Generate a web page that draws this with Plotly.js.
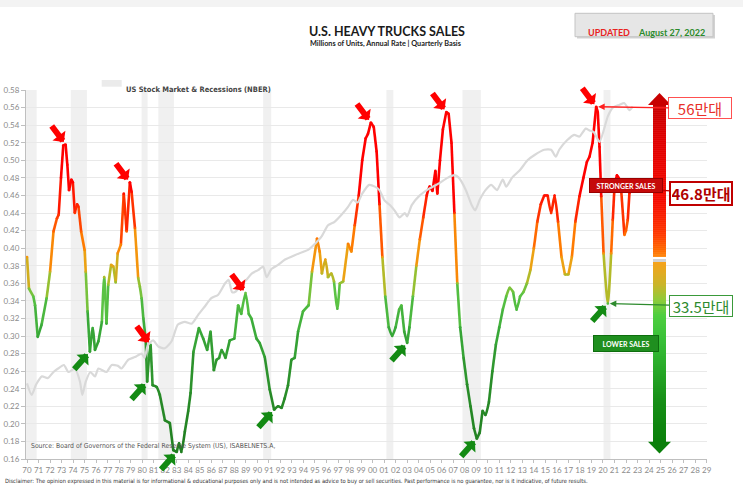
<!DOCTYPE html>
<html><head><meta charset="utf-8">
<script src="https://cdn.plot.ly/plotly-3.0.1.min.js"></script>
<style>html,body{margin:0;padding:0;background:#fff;}#chart{width:743px;height:493px;}</style>
</head><body><div id="chart"></div>
<script>
// ---------------- DATA ----------------
const salesYears = [1970.00,1970.17,1970.55,1970.70,1970.93,1971.27,1971.70,1972.00,1972.30,1972.60,1972.75,1972.95,1973.15,1973.35,1973.50,1973.65,1973.85,1973.98,1974.15,1974.35,1974.47,1974.70,1975.00,1975.10,1975.26,1975.46,1975.70,1975.90,1976.20,1976.50,1976.70,1976.90,1977.05,1977.30,1977.50,1977.70,1977.87,1978.15,1978.40,1978.65,1978.93,1979.08,1979.37,1979.65,1979.80,1979.95,1980.10,1980.30,1980.43,1980.58,1980.73,1980.90,1981.25,1981.53,1981.97,1982.40,1982.70,1983.00,1983.20,1983.40,1983.70,1984.00,1984.20,1984.45,1984.92,1985.30,1985.64,1985.93,1986.22,1986.45,1986.68,1986.90,1987.23,1987.60,1988.00,1988.33,1988.60,1988.97,1989.25,1989.48,1989.92,1990.20,1990.64,1991.07,1991.45,1991.80,1992.10,1992.37,1992.66,1992.95,1993.24,1993.53,1993.96,1994.45,1994.74,1995.18,1995.41,1995.60,1995.90,1996.13,1996.42,1996.65,1996.94,1997.15,1997.45,1997.87,1998.16,1998.45,1998.80,1999.10,1999.40,1999.60,1999.85,2000.10,2000.35,2000.60,2000.85,2001.10,2001.40,2001.70,2002.00,2002.30,2002.50,2002.75,2003.00,2003.20,2003.50,2003.80,2004.10,2004.40,2004.70,2004.95,2005.20,2005.45,2005.62,2005.85,2006.10,2006.40,2006.60,2006.85,2007.10,2007.35,2007.60,2007.90,2008.20,2008.50,2008.80,2009.05,2009.30,2009.55,2009.80,2010.10,2010.40,2010.70,2011.00,2011.30,2011.60,2011.90,2012.20,2012.50,2012.80,2013.10,2013.40,2013.70,2014.00,2014.30,2014.60,2014.90,2015.20,2015.50,2015.80,2016.10,2016.40,2016.70,2017.00,2017.30,2017.60,2017.96,2018.30,2018.60,2018.83,2019.10,2019.41,2019.55,2019.70,2019.85,2020.05,2020.42,2020.71,2020.85,2021.00,2021.21,2021.45,2021.58,2021.86,2022.00,2022.15,2022.30,2022.58,2022.88];
const salesValues = [0.390,0.354,0.345,0.335,0.299,0.313,0.343,0.373,0.419,0.434,0.438,0.480,0.517,0.518,0.495,0.466,0.478,0.475,0.440,0.450,0.447,0.419,0.398,0.373,0.328,0.282,0.309,0.284,0.294,0.316,0.367,0.314,0.358,0.381,0.379,0.361,0.394,0.404,0.462,0.419,0.475,0.464,0.423,0.366,0.356,0.343,0.320,0.297,0.248,0.275,0.290,0.244,0.242,0.233,0.204,0.201,0.170,0.168,0.178,0.168,0.191,0.215,0.235,0.282,0.309,0.297,0.284,0.305,0.261,0.273,0.275,0.284,0.275,0.295,0.297,0.335,0.325,0.349,0.325,0.320,0.297,0.292,0.276,0.239,0.216,0.220,0.218,0.229,0.244,0.273,0.275,0.305,0.328,0.335,0.373,0.411,0.396,0.371,0.387,0.367,0.371,0.362,0.331,0.360,0.362,0.405,0.396,0.426,0.460,0.500,0.525,0.530,0.543,0.538,0.510,0.450,0.390,0.345,0.310,0.300,0.310,0.330,0.335,0.305,0.292,0.310,0.345,0.380,0.410,0.435,0.460,0.470,0.465,0.488,0.462,0.500,0.535,0.555,0.553,0.520,0.440,0.360,0.310,0.275,0.245,0.220,0.195,0.183,0.190,0.215,0.210,0.225,0.260,0.290,0.310,0.330,0.345,0.355,0.350,0.330,0.345,0.350,0.360,0.375,0.400,0.430,0.450,0.460,0.460,0.440,0.460,0.430,0.390,0.370,0.370,0.390,0.430,0.459,0.480,0.498,0.504,0.520,0.561,0.555,0.515,0.459,0.394,0.337,0.394,0.432,0.470,0.483,0.478,0.466,0.415,0.420,0.432,0.463,0.468,0.468];

// US stock market (hidden scale, drawn on overlay axis)
const stockYears = [1970.0,1970.4,1970.8,1971.3,1971.8,1972.3,1972.7,1973.2,1973.6,1974.15,1974.6,1974.8,1975.1,1975.5,1975.9,1976.2,1976.9,1977.35,1977.9,1978.2,1978.8,1979.37,1979.95,1980.2,1980.5,1980.95,1981.4,1981.97,1982.55,1983.1,1983.7,1984.3,1984.86,1985.4,1986.0,1986.6,1987.2,1987.5,1987.8,1988.05,1988.6,1989.05,1989.5,1990.06,1990.5,1990.8,1991.2,1991.8,1992.4,1993.24,1994.0,1994.4,1995.0,1995.56,1996.13,1996.7,1997.3,1997.87,1998.3,1998.7,1999.1,1999.7,2000.2,2000.6,2001.0,2001.5,2001.9,2002.35,2002.8,2003.0,2003.4,2004.1,2004.95,2005.8,2006.5,2007.1,2007.5,2008.1,2008.6,2008.9,2009.3,2009.8,2010.3,2010.8,2011.3,2011.6,2012.1,2012.8,2013.45,2014.06,2014.9,2015.5,2015.9,2016.2,2016.9,2017.5,2017.96,2018.5,2018.83,2019.2,2019.7,2020.42,2020.85,2021.4,2021.86,2022.3,2022.58];
const stockValues = [0.246,0.233,0.245,0.254,0.252,0.259,0.263,0.267,0.259,0.263,0.248,0.233,0.248,0.259,0.254,0.263,0.259,0.267,0.266,0.263,0.273,0.276,0.280,0.275,0.290,0.295,0.288,0.286,0.294,0.313,0.316,0.314,0.324,0.333,0.343,0.347,0.360,0.364,0.350,0.350,0.358,0.364,0.371,0.375,0.379,0.367,0.376,0.381,0.387,0.392,0.396,0.398,0.405,0.413,0.426,0.430,0.438,0.447,0.455,0.452,0.462,0.472,0.470,0.466,0.455,0.449,0.443,0.435,0.440,0.436,0.449,0.460,0.468,0.474,0.480,0.483,0.480,0.466,0.449,0.443,0.455,0.466,0.472,0.466,0.478,0.470,0.480,0.489,0.500,0.506,0.512,0.512,0.504,0.512,0.523,0.529,0.527,0.536,0.534,0.532,0.521,0.550,0.560,0.563,0.565,0.557,0.561];

// NBER recessions (start, end)
const recessionStart = [1969.92,1973.80,1979.95,1981.40,1990.50,2001.20,2007.80,2020.05];
const recessionEnd   = [1970.84,1975.20,1980.47,1982.75,1991.20,2001.80,2009.40,2020.65];

const tickYears = [];
for (let y = 1970; y <= 2029; y++) tickYears.push(y);
const tickLabels = tickYears.map(y => String(y % 100).padStart(2, '0'));

const peakYears   = [1973.35,1978.93,1980.73,1988.97,1999.85,2006.40,2019.41];
const troughYears = [1975.46,1980.43,1983.00,1991.45,2003.00,2009.05,2020.42];

// ---------------- GEOMETRY HELPERS ----------------
const W = 743, H = 493, L = 26, R = 707, T = 90, B = 459;
const X0 = 1969.913, X1 = 2029.03, Y0 = 0.16, Y1 = 0.58;
const PX = px => (px - L) / (R - L);
const PY = py => (B - py) / (B - T);
const xpx = yr => L + (yr - X0) / (X1 - X0) * (R - L);
const ypx = v => B - (v - Y0) / (Y1 - Y0) * (B - T);
function nearestIdx(yr){ let b=0; for(let i=1;i<salesYears.length;i++) if(Math.abs(salesYears[i]-yr)<Math.abs(salesYears[b]-yr)) b=i; return b; }

function hex2rgb(h){return [parseInt(h.slice(1,3),16),parseInt(h.slice(3,5),16),parseInt(h.slice(5,7),16)];}
function interpColor(stops, t){
  if (t <= stops[0][0]) return stops[0][1];
  for (let i=1;i<stops.length;i++){
    if (t <= stops[i][0]){
      const a=stops[i-1], b=stops[i], f=(t-a[0])/(b[0]-a[0]);
      const ca=hex2rgb(a[1]), cb=hex2rgb(b[1]);
      const c=ca.map((v,k)=>Math.round(v+(cb[k]-v)*f));
      return 'rgb('+c.join(',')+')';
    }
  }
  return stops[stops.length-1][1];
}
const lineStops = [[0.16,'#1f7d1f'],[0.25,'#2a8f2a'],[0.31,'#3aab3a'],[0.345,'#5cc444'],[0.365,'#a8bf2c'],[0.385,'#f0a012'],[0.41,'#ff7800'],[0.44,'#ff3300'],[0.47,'#ff0000'],[0.60,'#ff0000']];

// ---------------- TRACES ----------------
const traces = [];
traces.push({x: stockYears, y: stockValues, yaxis:'y2', mode:'lines', line:{color:'#d9d9d9', width:2.2, shape:'spline', smoothing:0.6}, hoverinfo:'skip', showlegend:false});

let runStart = 0;
const keyOf = i => Math.round(((salesValues[i]+salesValues[i+1])/2)/0.008);
for (let i = 0; i < salesValues.length - 1; i++){
  const last = (i === salesValues.length - 2) || keyOf(i+1) !== keyOf(i);
  if (last){
    const xs = salesYears.slice(runStart, i+2), ys = salesValues.slice(runStart, i+2);
    traces.push({x: xs, y: ys, mode:'lines', line:{color: interpColor(lineStops, keyOf(i)*0.008), width:2.6, shape:'spline', smoothing:0.6}, hoverinfo:'skip', showlegend:false});
    runStart = i+1;
  }
}
traces.push({x: salesYears, y: salesValues, mode:'markers', marker:{size:2.6, color: salesValues.map(v=>interpColor(lineStops,v))}, hoverinfo:'skip', showlegend:false});

// ---------------- SHAPES ----------------
const shapes = [];
shapes.push({type:'rect', xref:'paper', yref:'paper', x0:PX(0), x1:PX(W), y0:PY(0), y1:PY(7), fillcolor:'#f3f3f3', line:{width:0}, layer:'below'});
for (let i=0;i<recessionStart.length;i++){
  shapes.push({type:'rect', xref:'x', yref:'paper', x0:Math.max(recessionStart[i],X0), x1:recessionEnd[i], y0:0, y1:1, fillcolor:'#f0f0f0', line:{width:0}, layer:'below'});
}
shapes.push({type:'rect', xref:'paper', yref:'paper', x0:PX(101.7), x1:PX(121.7), y0:PY(86.7), y1:PY(80), fillcolor:'#ebebeb', line:{width:0}});
shapes.push({type:'rect', xref:'paper', yref:'paper', x0:PX(577), x1:PX(715), y0:PY(38.5), y1:PY(15), fillcolor:'#d2d2d2', line:{width:0}});
shapes.push({type:'rect', xref:'paper', yref:'paper', x0:PX(575), x1:PX(713), y0:PY(36.7), y1:PY(13.3), fillcolor:'#e6e6e6', line:{color:'#c4c4c4', width:1}});

const cx = 659.5, sh = 6.5, hh = 11.5;
const arrowStops = [[105,'#c80000'],[140,'#e00000'],[200,'#f50a00'],[235,'#ff3a00'],[250,'#ff6a00'],[257,'#ff8a10'],[262,'#f7a21a'],[285,'#c9b52a'],[300,'#8fcb3a'],[315,'#4fcf3f'],[340,'#38c038'],[370,'#27a827'],[400,'#178f17'],[442,'#0a800a']];
function addSlices(a, b){
  for (let y=a; y<b; y+=2){
    const yb = Math.min(y+2.4, b);
    shapes.push({type:'rect', xref:'paper', yref:'paper', x0:PX(cx-sh), x1:PX(cx+sh), y0:PY(yb), y1:PY(y), fillcolor:interpColor(arrowStops, y+1), line:{width:0}, layer:'above'});
  }
}
addSlices(104.5, 257);
addSlices(262, 442.5);
shapes.push({type:'rect', xref:'paper', yref:'paper', x0:PX(cx-sh), x1:PX(cx+sh), y0:PY(262), y1:PY(259), fillcolor:'#d2d2d2', line:{width:0}, layer:'above'});
shapes.push({type:'path', xref:'paper', yref:'paper', layer:'above', fillcolor:'#c80000', line:{width:0},
  path:`M${PX(cx-hh)},${PY(105)} L${PX(cx+hh)},${PY(105)} L${PX(cx)},${PY(93)} Z`});
shapes.push({type:'path', xref:'paper', yref:'paper', layer:'above', fillcolor:'#0a7f0a', line:{width:0},
  path:`M${PX(cx-hh)},${PY(441.7)} L${PX(cx+hh)},${PY(441.7)} L${PX(cx)},${PY(453.5)} Z`});

// ---------------- ANNOTATIONS ----------------
const FONT = 'Lato, "Open Sans", sans-serif';
const NARROW = '"Liberation Sans Narrow", "DejaVu Sans Condensed", "Liberation Sans", sans-serif';
const ann = [];
ann.push({xref:'paper', yref:'paper', x:PX(387), y:PY(22), text:'<b>U.S. HEAVY TRUCKS SALES</b>', showarrow:false, font:{family:FONT, size:12.5, color:'#1a1a1a'}});
ann.push({xref:'paper', yref:'paper', x:PX(385), y:PY(37.5), text:'<b>Millions of Units, Annual Rate | Quarterly Basis</b>', showarrow:false, font:{family:FONT, size:7.3, color:'#222'}});
ann.push({xref:'paper', yref:'paper', x:PX(632), y:PY(25), xanchor:'right', text:'<b>UPDATED</b>', showarrow:false, font:{family:FONT, size:9, color:'#e8231f'}});
ann.push({xref:'paper', yref:'paper', x:PX(636), y:PY(25), xanchor:'left', text:'<b>August 27, 2022</b>', showarrow:false, font:{family:FONT, size:9, color:'#2b8a2b'}});
ann.push({xref:'paper', yref:'paper', x:PX(124), y:PY(83.5), xanchor:'left', text:'<b>US Stock Market & Recessions (NBER)</b>', showarrow:false, font:{family:NARROW, size:7.5, color:'#444'}});
ann.push({xref:'paper', yref:'paper', x:PX(29), y:PY(452), xanchor:'left', text:'Source: Board of Governors of the Federal Reserve System (US), ISABELNETS.A,', showarrow:false, font:{family:NARROW, size:6.8, color:'#555'}});
ann.push({xref:'paper', yref:'paper', x:PX(3), y:PY(487.5), xanchor:'left', text:'Disclaimer: The opinion expressed in this material is for informational & educational purposes only and is not intended as advice to buy or sell securities. Past performance is no guarantee, nor is it indicative, of future results.', showarrow:false, font:{family:NARROW, size:5.75, color:'#333'}});

peakYears.forEach(yr => { const i = nearestIdx(yr);
  ann.push({x:salesYears[i], y:salesValues[i], xref:'x', yref:'y', text:'', showarrow:true, arrowhead:1, arrowsize:0.45, arrowwidth:6, arrowcolor:'#ff0000', ax:-15, ay:-20, standoff:3});
});
troughYears.forEach(yr => { const i = nearestIdx(yr);
  ann.push({x:salesYears[i], y:salesValues[i], xref:'x', yref:'y', text:'', showarrow:true, arrowhead:1, arrowsize:0.45, arrowwidth:6, arrowcolor:'#138a13', ax:-17, ay:19, standoff:3});
});

const iPeak = nearestIdx(2019.41), iLow = nearestIdx(2020.42), iLast = salesValues.length - 1;
ann.push({x:salesYears[iPeak], y:salesValues[iPeak], xref:'x', yref:'y', text:'56만대', font:{family:'"Noto Sans CJK KR", sans-serif', size:15, color:'#e8302a'},
  bgcolor:'#ffffff', bordercolor:'#ff5050', borderwidth:1, width:60, height:18, showarrow:true, arrowhead:2, arrowsize:1, arrowwidth:1.3, arrowcolor:'#ff2020', standoff:2,
  ax:700.5 - xpx(salesYears[iPeak]), ay:108.3 - ypx(salesValues[iPeak])});
ann.push({x:salesYears[iLast], y:salesValues[iLast], xref:'x', yref:'y', text:'<b>46.8만대</b>', font:{family:'"Noto Sans CJK KR", sans-serif', size:15, color:'#b00000'},
  bgcolor:'#ffffff', bordercolor:'#c00000', borderwidth:2, width:58, height:19, showarrow:true, arrowhead:2, arrowsize:1, arrowwidth:1.3, arrowcolor:'#c00000', standoff:2,
  ax:701 - xpx(salesYears[iLast]), ay:193.3 - ypx(salesValues[iLast])});
ann.push({x:salesYears[iLow], y:salesValues[iLow], xref:'x', yref:'y', text:'33.5만대', font:{family:'"Noto Sans CJK KR", sans-serif', size:15, color:'#2e8b2e'},
  bgcolor:'#ffffff', bordercolor:'#3a9a3a', borderwidth:1, width:60, height:18, showarrow:true, arrowhead:2, arrowsize:1, arrowwidth:1.3, arrowcolor:'#2e8b2e', standoff:2,
  ax:700.5 - xpx(salesYears[iLow]), ay:306 - ypx(salesValues[iLow])});

ann.push({xref:'paper', yref:'paper', x:PX(663.3), y:PY(177.5), text:'<b>STRONGER SALES</b>', showarrow:false, font:{family:FONT, size:7, color:'#ffffff'}, bgcolor:'#c50a0a', bordercolor:'#9a0000', borderwidth:1, width:70, height:11});
ann.push({xref:'paper', yref:'paper', x:PX(659.3), y:PY(352), text:'<b>LOWER SALES</b>', showarrow:false, font:{family:FONT, size:7, color:'#ffffff'}, bgcolor:'#1f8f1f', bordercolor:'#0e6e0e', borderwidth:1, width:62, height:13});

// ---------------- LAYOUT ----------------
const layout = {
  width: W, height: H,
  margin: {l: L, r: W - R, t: T, b: H - B},
  paper_bgcolor: '#ffffff', plot_bgcolor: '#ffffff',
  showlegend: false,
  font: {family: FONT, color: '#888'},
  xaxis: {range: [X0, X1], tickmode: 'array', tickvals: tickYears, ticktext: tickLabels, tickangle: 0, showgrid: false, zeroline: false,
    showline: true, linecolor: '#bfbfbf', linewidth: 1, ticks: 'outside', ticklen: 3, tickcolor: '#bfbfbf',
    tickfont: {family: FONT, size: 8, color: '#8a8a8a'}, fixedrange: true, automargin: false},
  yaxis: {range: [Y0, Y1], dtick: 0.02, tick0: 0.16, tickformat: '.2f', showgrid: true, gridcolor: '#e9e9e9', zeroline: false,
    showline: true, linecolor: '#bfbfbf', ticks: 'outside', ticklen: 4, tickcolor: '#bfbfbf',
    tickfont: {family: FONT, size: 8, color: '#8a8a8a'}, fixedrange: true, automargin: false},
  yaxis2: {range: [Y0, Y1], overlaying: 'y', visible: false, fixedrange: true},
  shapes: shapes,
  annotations: ann
};
Plotly.newPlot('chart', traces, layout, {staticPlot: true, displayModeBar: false});
</script>
</body></html>
